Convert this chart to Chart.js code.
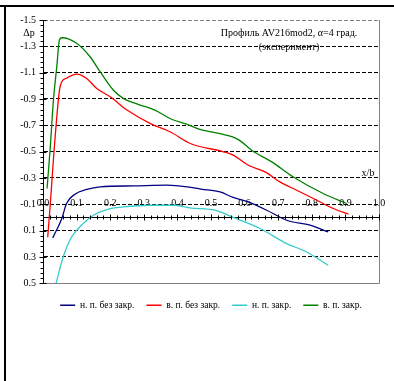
<!DOCTYPE html>
<html>
<head>
<meta charset="utf-8">
<script src="https://cdn.jsdelivr.net/npm/chart.js@4.4.0/dist/chart.umd.min.js"></script>
<style>
  html, body { margin: 0; padding: 0; background: #fff; }
  #wrap { position: relative; width: 394px; height: 381px; overflow: hidden; }
  #chart { position: absolute; left: 0; top: 0; }
  .frame-top { position: absolute; left: 0; top: 5px; width: 394px; height: 2px; background: #000; }
  .frame-left { position: absolute; left: 4px; top: 5px; width: 2px; height: 376px; background: #000; }
</style>
</head>
<body>
<div id="wrap">
  <canvas id="chart" width="394" height="381"></canvas>
  <div class="frame-top"></div>
  <div class="frame-left"></div>
</div>
<script>
/* ================= DATA ================= */
const seriesNames = ['н. п. без закр.', 'в. п. без закр.', 'н. п. закр.', 'в. п. закр.'];
const seriesColors = ['#000080', '#ff0000', '#33cccc', '#008000'];

// нижняя поверхность, без закрылка
const xNpBez = [0.029, 0.056, 0.07, 0.095, 0.13, 0.17, 0.27, 0.37, 0.43, 0.47, 0.527, 0.566, 0.611, 0.666, 0.725, 0.795, 0.849];
const yNpBez = [0.155, 0.008, -0.106, -0.177, -0.213, -0.233, -0.24, -0.245, -0.232, -0.215, -0.194, -0.152, -0.118, -0.055, 0.021, 0.059, 0.11];

// верхняя поверхность, без закрылка
const xVpBez = [0.014, 0.021, 0.028, 0.033, 0.049, 0.056, 0.07, 0.1, 0.13, 0.16, 0.2, 0.25, 0.323, 0.378, 0.44, 0.537, 0.566, 0.611, 0.661, 0.705, 0.755, 0.815, 0.864, 0.909];
const yVpBez = [0.15, -0.08, -0.33, -0.51, -0.968, -1.031, -1.058, -1.089, -1.056, -0.98, -0.917, -0.816, -0.709, -0.651, -0.56, -0.499, -0.473, -0.397, -0.346, -0.27, -0.207, -0.131, -0.068, -0.025];

// нижняя поверхность, с закрылком
const xNpZakr = [0.039, 0.06, 0.085, 0.12, 0.15, 0.19, 0.239, 0.318, 0.388, 0.437, 0.512, 0.566, 0.646, 0.725, 0.785, 0.849];
const yNpZakr = [0.5, 0.3, 0.148, 0.046, -0.017, -0.06, -0.08, -0.093, -0.093, -0.073, -0.055, 0.0, 0.084, 0.198, 0.262, 0.363];

// верхняя поверхность, с закрылком
const xVpZakr = [0.012, 0.021, 0.031, 0.041, 0.049, 0.057, 0.1, 0.14, 0.17, 0.209, 0.239, 0.289, 0.333, 0.378, 0.437, 0.467, 0.53, 0.566, 0.588, 0.621, 0.681, 0.745, 0.834, 0.904];
const yVpZakr = [-0.22, -0.51, -0.89, -1.145, -1.35, -1.365, -1.323, -1.221, -1.107, -0.968, -0.905, -0.854, -0.816, -0.752, -0.7, -0.669, -0.635, -0.61, -0.58, -0.511, -0.422, -0.308, -0.182, -0.106];

const yMin = -1.5, yMax = 0.5, yStep = 0.2;
const xMin = 0, xMax = 1, xStep = 0.1;

const titleLines = ['Профиль AV216mod2, α=4 град.', '(эксперимент)'];
const yAxisName = 'Δp';
const xAxisName = 'x/b';

const FONT = "'Liberation Serif', 'Times New Roman', serif";

/* ================= HELPERS ================= */
function points(xs, ys) {
  return xs.map((x, i) => ({ x: x, y: ys[i] }));
}

function makeSet(i, xs, ys) {
  return {
    label: seriesNames[i],
    data: points(xs, ys),
    borderColor: seriesColors[i],
    backgroundColor: seriesColors[i],
    borderWidth: 1.3,
    pointRadius: 0,
    showLine: true,
    fill: false,
    cubicInterpolationMode: 'monotone'
  };
}

/* ================= DECOR PLUGIN ================= */
// minor ticks, plot-area border and the captions inside the plot
const axisDecor = {
  id: 'axisDecor',
  afterDraw(chart) {
    const { ctx, chartArea: a, scales } = chart;
    const x = scales.x, y = scales.y;
    const y0 = Math.round(y.getPixelForValue(0)) + 0.5;
    const lx = Math.round(a.left) + 0.5;
    ctx.save();

    ctx.strokeStyle = '#808080';
    ctx.lineWidth = 1;
    ctx.beginPath();
    ctx.moveTo(Math.round(a.right) + 0.5, a.top);
    ctx.lineTo(Math.round(a.right) + 0.5, Math.round(a.bottom) + 0.5);
    ctx.lineTo(a.left, Math.round(a.bottom) + 0.5);
    ctx.stroke();

    ctx.strokeStyle = '#000';
    ctx.beginPath();
    for (let i = 0; i <= 50; i++) {
      const px = Math.round(x.getPixelForValue(xMin + i * 0.02)) + 0.5;
      const len = i % 5 === 0 ? 3 : 2;
      ctx.moveTo(px, y0 - len);
      ctx.lineTo(px, y0 + len);
    }
    for (let i = 0; i <= 50; i++) {
      const py = Math.round(y.getPixelForValue(yMin + i * 0.04)) + 0.5;
      const major = i % 5 === 0;
      ctx.moveTo(lx - (major ? 4 : 3), py);
      ctx.lineTo(lx + (major ? 3 : 0), py);
    }
    ctx.stroke();

    ctx.fillStyle = '#000';
    ctx.font = '10px ' + FONT;
    ctx.textAlign = 'center';
    ctx.textBaseline = 'middle';
    ctx.fillText(titleLines[0], 289, 33);
    ctx.fillText(titleLines[1], 289, 47);
    ctx.fillText(yAxisName, 29, 33);
    ctx.fillText(xAxisName, 368, 173);
    ctx.restore();
  }
};

/* ================= CHART ================= */
new Chart(document.getElementById('chart'), {
  type: 'scatter',
  data: {
    datasets: [
      makeSet(0, xNpBez, yNpBez),
      makeSet(1, xVpBez, yVpBez),
      makeSet(2, xNpZakr, yNpZakr),
      makeSet(3, xVpZakr, yVpZakr)
    ]
  },
  options: {
    responsive: false,
    animation: false,
    devicePixelRatio: 1,
    layout: { padding: { left: 6, top: 20, right: 15, bottom: 61 } },
    plugins: {
      tooltip: { enabled: false },
      legend: {
        position: 'bottom',
        fullSize: false,
        // empty title only pushes the row down a little
        title: { display: true, text: '', font: { size: 1 }, padding: { top: 4, bottom: 0 } },
        labels: {
          usePointStyle: true,
          pointStyle: 'line',
          pointStyleWidth: 15,
          padding: 12,
          color: '#000',
          font: { family: FONT, size: 9.5 }
        }
      }
    },
    scales: {
      x: {
        type: 'linear',
        position: { y: 0 },
        min: xMin,
        max: xMax,
        grid: { display: false, drawTicks: false },
        border: { display: true, color: '#000', width: 1 },
        ticks: {
          stepSize: xStep,
          autoSkip: false,
          maxRotation: 0,
          padding: -20,
          color: '#000',
          font: { family: FONT, size: 10 },
          callback: v => Number(v).toFixed(1)
        }
      },
      y: {
        type: 'linear',
        position: 'left',
        reverse: true,
        min: yMin,
        max: yMax,
        afterFit: s => { s.width = 37; },
        grid: {
          drawTicks: false,
          lineWidth: 1,
          color: c => {
            const v = c.tick ? c.tick.value : 0;
            if (Math.abs(v - yMax) < 1e-6) return 'rgba(0,0,0,0)';
            if (Math.abs(v - yMin) < 1e-6) return '#808080';
            return '#000';
          }
        },
        border: { display: true, color: '#000', width: 1, dash: [4, 2] },
        ticks: {
          stepSize: yStep,
          autoSkip: false,
          padding: 7,
          color: '#000',
          font: { family: FONT, size: 10 },
          callback: v => Number(v).toFixed(1)
        }
      }
    }
  },
  plugins: [axisDecor]
});
</script>
</body>
</html>
